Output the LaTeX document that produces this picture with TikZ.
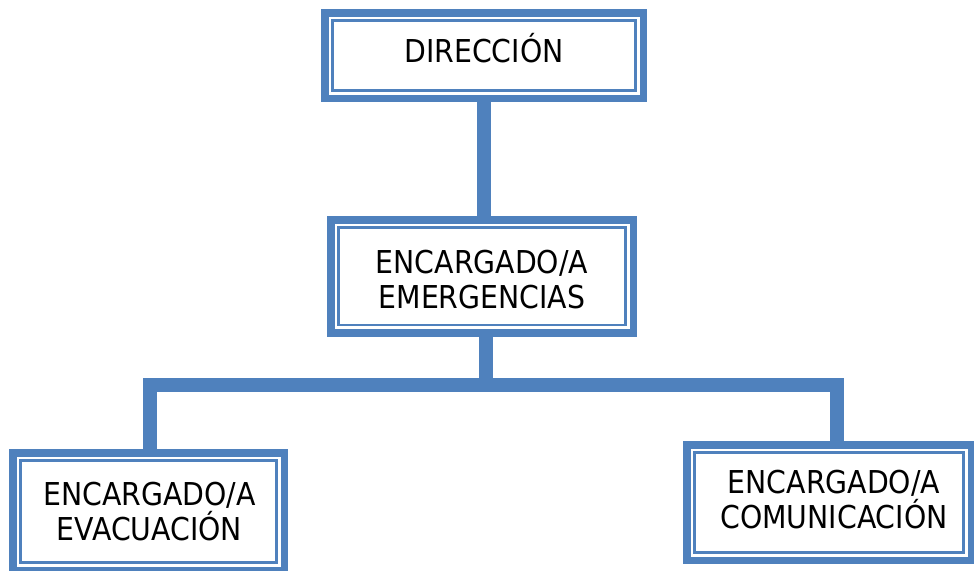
\documentclass[tikz,border=0pt]{standalone}
\usepackage{fontspec}
\setmainfont{DejaVu Sans Condensed}
\definecolor{obl}{RGB}{79,129,189}
\tikzset{
  orgbox/.style={draw=obl, line width=7.5pt, fill=white, rectangle, inner sep=0pt, outer sep=0pt},
  innerline/.style={draw=obl, line width=2.5pt},
  conn/.style={draw=obl, line width=14pt, line join=miter},
  lbl/.style={align=center, inner sep=0pt, text=black, font=\fontsize{31.5}{35}\selectfont}
}
\begin{document}
\begin{tikzpicture}[x=1pt, y=-1pt]
\useasboundingbox (0,0) rectangle (974,570);
\clip (0,0) rectangle (974,570);
% boxes
\node[orgbox, minimum width=318.5pt, minimum height=85.5pt] (dir) at (484,55.5) {};
\node[orgbox, minimum width=302.5pt, minimum height=113pt] (eme) at (482,276.3) {};
\node[orgbox, minimum width=271.5pt, minimum height=117.5pt] (eva) at (148.5,511.5) {};
\node[orgbox, minimum width=284.5pt, minimum height=115.5pt] (com) at (829,502.5) {};
\foreach \n in {dir,eme,eva,com}
  \draw[innerline] ([shift={(7.75,7.75)}]\n.north west) rectangle ([shift={(-7.75,-7.75)}]\n.south east);
% connectors
\coordinate (bar) at (486,385);
\draw[conn] (dir.south) -- (dir.south |- eme.north);
\draw[conn] (486,0 |- eme.south) -- (bar);
\coordinate (evtop) at (149.5,0 |- eva.north);
\coordinate (cotop) at (837,0 |- com.north);
\draw[conn] (evtop) |- (bar) -| (cotop);
% labels
\node[lbl] (t1) at (484,48.4) {DIRECCIÓN};
\node[lbl] (t2) at (482,279.3) {ENCARGADO/A\\EMERGENCIAS};
\node[lbl] (t3) at (149.5,511.3) {ENCARGADO/A\\EVACUACIÓN};
\node[lbl] (t4) at (834,499.3) {ENCARGADO/A\\COMUNICACIÓN};
\end{tikzpicture}
\end{document}
